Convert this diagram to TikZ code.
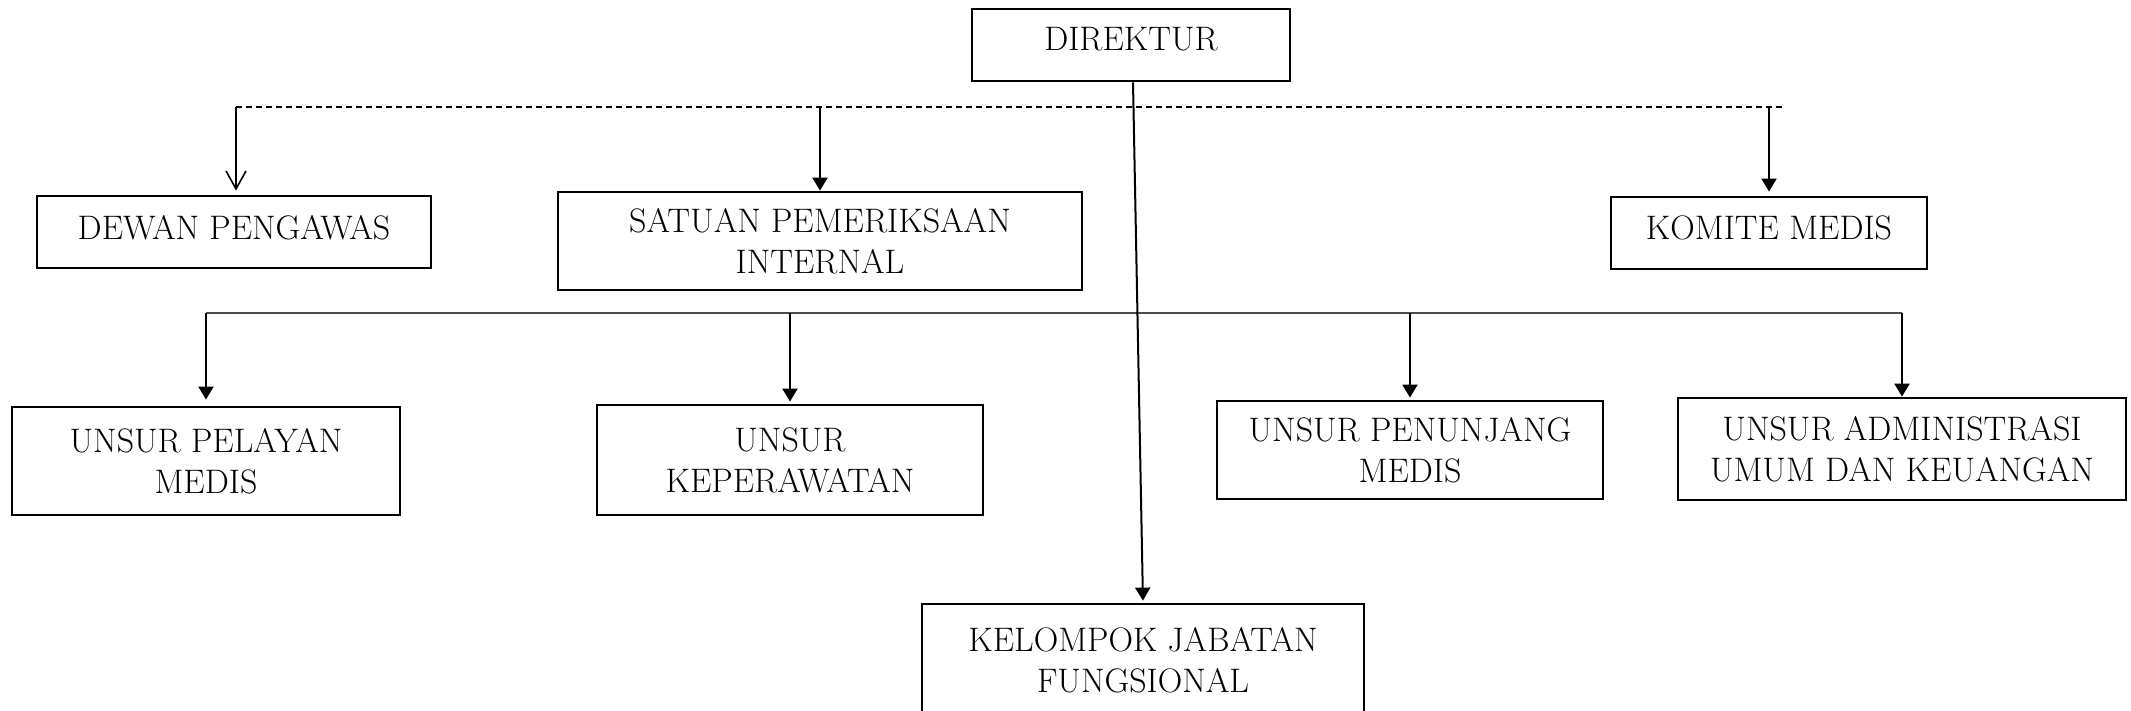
\documentclass[tikz,border=0pt]{standalone}
\usetikzlibrary{arrows.meta}
\begin{document}
\begin{tikzpicture}[x=0.5pt,y=-0.5pt,
    unit/.style={draw,line width=1.4pt,align=center,inner sep=0pt,
      font=\fontsize{17}{20.5}\selectfont},
    link/.style={line width=1pt,-{Triangle[length=6.5pt,width=7.5pt]}}]
  \useasboundingbox (0,0) rectangle (2131,711);
  \draw
    (1131,45) node[unit,minimum width=159pt,minimum height=36pt,text depth=6pt] (direktur){DIREKTUR}
    (234,232) node[unit,minimum width=197pt,minimum height=36pt,text depth=5pt] (dewan){DEWAN PENGAWAS}
    (820,241) node[unit,minimum width=262pt,minimum height=49pt] (satuan){SATUAN PEMERIKSAAN\\INTERNAL}
    (1769,233) node[unit,minimum width=158pt,minimum height=36pt,text depth=5pt] (komite){KOMITE MEDIS}
    (206,461) node[unit,minimum width=194pt,minimum height=54pt] (pelayan){UNSUR PELAYAN\\MEDIS}
    (790,460) node[unit,minimum width=193pt,minimum height=55pt] (perawat){UNSUR\\KEPERAWATAN}
    (1410,450) node[unit,minimum width=193pt,minimum height=49pt] (penunjang){UNSUR PENUNJANG\\MEDIS}
    (1902,449) node[unit,minimum width=224pt,minimum height=51pt] (admin){UNSUR ADMINISTRASI\\UMUM DAN KEUANGAN}
    (1143,660) node[unit,minimum width=221pt,minimum height=56pt] (kelompok){KELOMPOK JABATAN\\FUNGSIONAL};
  \coordinate (dl) at (236,107);
  \coordinate (dr) at (1783,107);
  \coordinate (sl) at (206,313);
  \coordinate (sr) at (1902,313);
  \draw[dash pattern=on 3pt off 2pt,line width=0.6pt] (dl) -- (dr);
  \draw[line width=0.8pt,black!70] (sl) -- (sr);
  \begin{scope}[link]
    \draw[line width=0.8pt,-{Straight Barb[length=9pt,width=10pt]},shorten >=2pt] (dl) -- (dl |- dewan.north);
    \draw (satuan.north |- dl) -- (satuan.north);
    \draw[shorten >=2pt] (komite.north |- dl) -- (komite.north);
    \draw[shorten >=1pt] ([xshift=1pt]direktur.south) -- (kelompok.north);
    \draw[shorten >=3pt] (sl) -- (pelayan.north);
    \draw[shorten >=1pt] (perawat.north |- sl) -- (perawat.north);
    \draw[shorten >=1pt] (penunjang.north |- sl) -- (penunjang.north);
    \draw (sr) -- (admin.north);
  \end{scope}
\end{tikzpicture}
\end{document}
